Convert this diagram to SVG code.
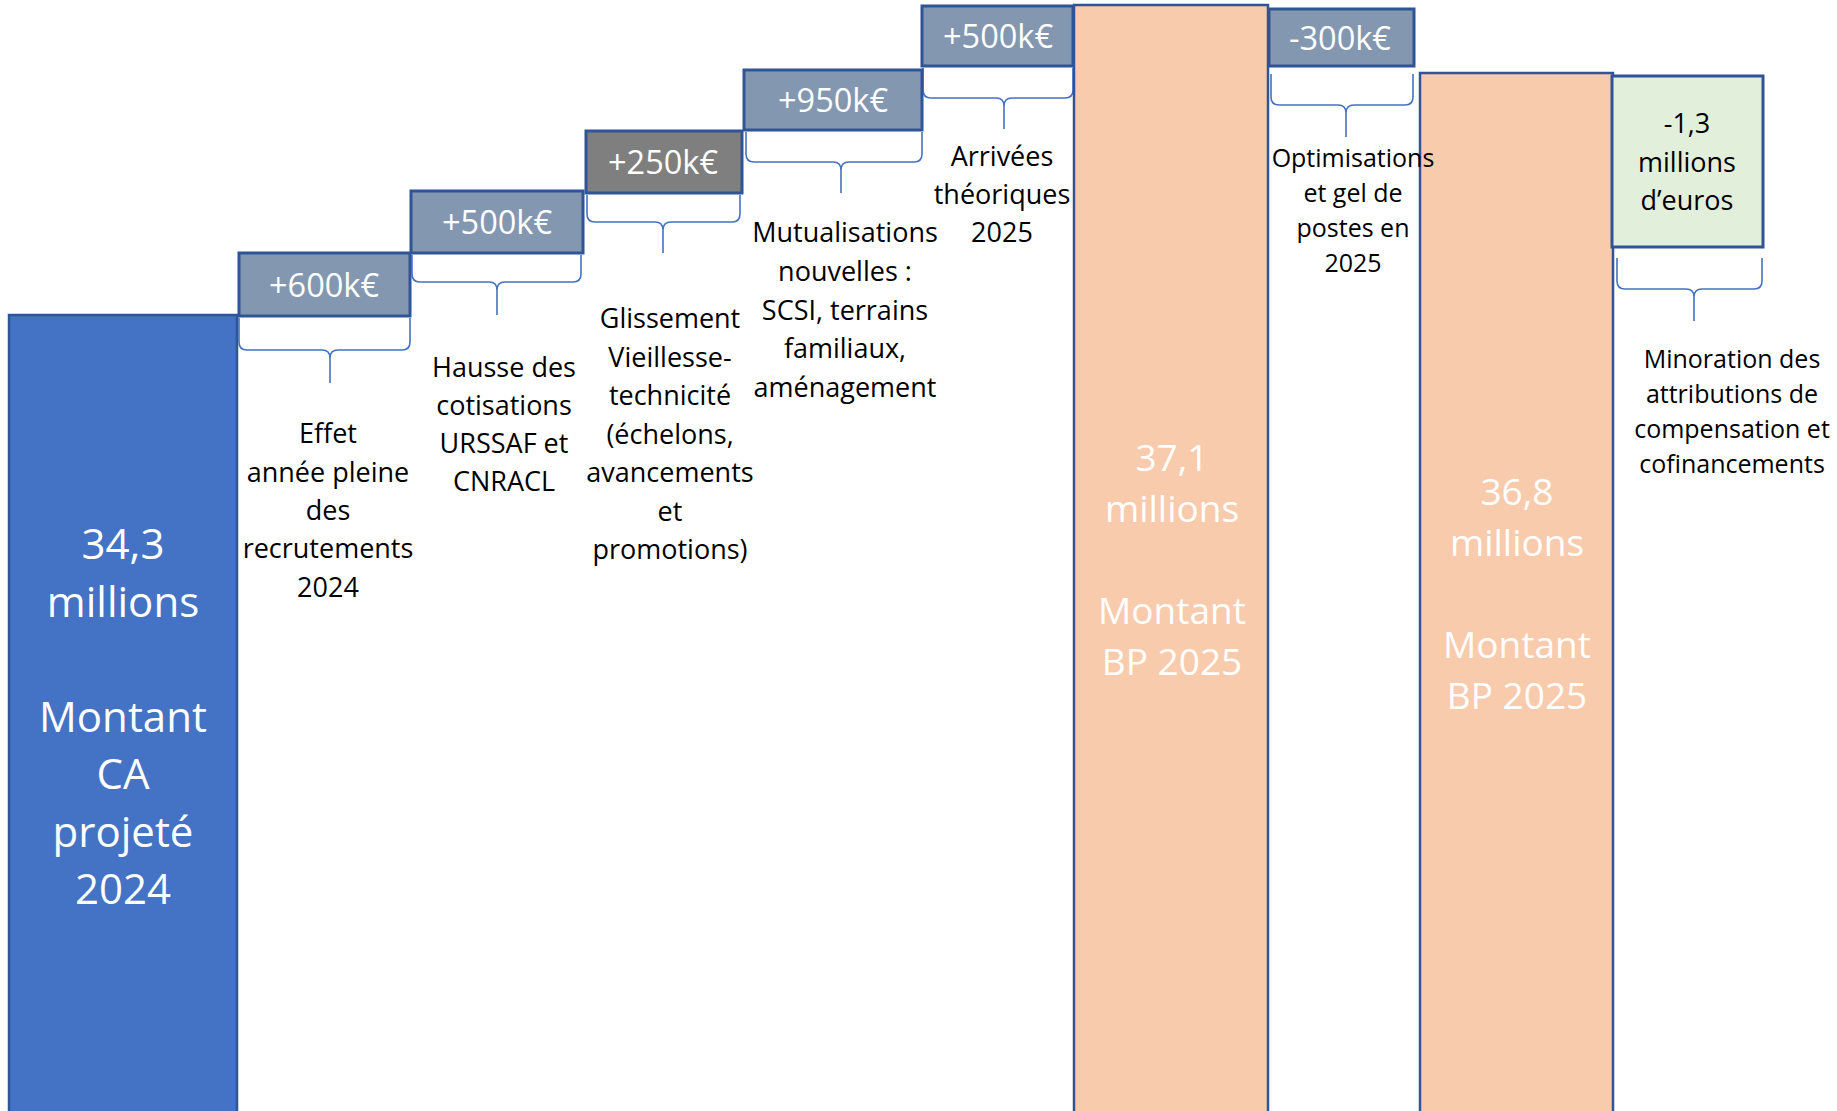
<svg xmlns="http://www.w3.org/2000/svg" width="1837" height="1111" viewBox="0 0 1837 1111">
<style>
.bar{stroke:#2F5597;stroke-width:2.5}
.box{stroke:#2F5597;stroke-width:3}
.blue{fill:#4472C4}
.peach{fill:#F8CBAD}
.slate{fill:#8497B0}
.gray{fill:#7F7F7F}
.green{fill:#E2EFDA}
text{font-family:"Open Sans","Liberation Sans",sans-serif;text-anchor:middle}
.val{fill:#FFFFFF;font-size:32.5px}
.lbl{fill:#000000;font-size:27px}
.sm{fill:#000000;font-size:25px}
.bigw{fill:#FFFFFF;font-size:42px}
.midw{fill:#FFFFFF;font-size:37px}
.brace{fill:none;stroke:#4472C4;stroke-width:1.6}
</style>
<rect width="1837" height="1111" fill="#FFFFFF"/>

<g id="connectors">
<path class="brace" d="M239,318 L239,342 Q239,350 247,350 L322,350 Q330,350 330,358 L330,383 M410,318 L410,342 Q410,350 402,350 L338,350 Q330,350 330,358"/>
<path class="brace" d="M412,255 L412,274 Q412,282 420,282 L489,282 Q497,282 497,290 L497,315 M581,255 L581,274 Q581,282 573,282 L505,282 Q497,282 497,290"/>
<path class="brace" d="M587,195 L587,214 Q587,222 595,222 L655,222 Q663,222 663,230 L663,253 M740,195 L740,214 Q740,222 732,222 L671,222 Q663,222 663,230"/>
<path class="brace" d="M746,132 L746,154 Q746,162 754,162 L833,162 Q841,162 841,170 L841,193 M922,132 L922,154 Q922,162 914,162 L849,162 Q841,162 841,170"/>
<path class="brace" d="M923,68 L923,90 Q923,98 931,98 L996,98 Q1004,98 1004,106 L1004,129 M1073,68 L1073,90 Q1073,98 1065,98 L1012,98 Q1004,98 1004,106"/>
<path class="brace" d="M1271,74 L1271,97 Q1271,105 1279,105 L1338,105 Q1346,105 1346,113 L1346,137 M1413,74 L1413,97 Q1413,105 1405,105 L1354,105 Q1346,105 1346,113"/>
<path class="brace" d="M1617,258 L1617,281 Q1617,289 1625,289 L1686,289 Q1694,289 1694,297 L1694,321 M1762,258 L1762,281 Q1762,289 1754,289 L1702,289 Q1694,289 1694,297"/>
</g>

<g id="bar-ca-2024">
<rect class="bar blue" x="9" y="315" width="228" height="800"/>
<text class="bigw"><tspan x="123" y="559">34,3</tspan><tspan x="123" y="617">millions</tspan><tspan x="123" y="732">Montant</tspan><tspan x="123" y="789">CA</tspan><tspan x="123" y="847">projeté</tspan><tspan x="123" y="904">2024</tspan></text>
</g>

<g id="step-600k">
<rect class="box slate" x="239" y="253" width="171" height="63"/>
<text class="val" x="324" y="297">+600k€</text>
</g>
<g id="label-effet">
<text class="lbl"><tspan x="328" y="443">Effet</tspan><tspan x="328" y="482">année pleine</tspan><tspan x="328" y="520">des</tspan><tspan x="328" y="558">recrutements</tspan><tspan x="328" y="597">2024</tspan></text>
</g>

<g id="step-500k-a">
<rect class="box slate" x="411" y="191" width="172" height="62"/>
<text class="val" x="497" y="234">+500k€</text>
</g>
<g id="label-hausse">
<text class="lbl"><tspan x="504" y="377">Hausse des</tspan><tspan x="504" y="415">cotisations</tspan><tspan x="504" y="453">URSSAF et</tspan><tspan x="504" y="491">CNRACL</tspan></text>
</g>

<g id="step-250k">
<rect class="box gray" x="586" y="131" width="156" height="62"/>
<text class="val" x="663" y="174">+250k€</text>
</g>
<g id="label-glissement">
<text class="lbl"><tspan x="670" y="328">Glissement</tspan><tspan x="670" y="367">Vieillesse-</tspan><tspan x="670" y="405">technicité</tspan><tspan x="670" y="444">(échelons,</tspan><tspan x="670" y="482">avancements</tspan><tspan x="670" y="521">et</tspan><tspan x="670" y="559">promotions)</tspan></text>
</g>

<g id="step-950k">
<rect class="box slate" x="744" y="70" width="178" height="60"/>
<text class="val" x="833" y="112">+950k€</text>
</g>
<g id="label-mutualisations">
<text class="lbl"><tspan x="845" y="242">Mutualisations</tspan><tspan x="845" y="281">nouvelles :</tspan><tspan x="845" y="320">SCSI, terrains</tspan><tspan x="845" y="358">familiaux,</tspan><tspan x="845" y="397">aménagement</tspan></text>
</g>

<g id="step-500k-b">
<rect class="box slate" x="922" y="6" width="151" height="60"/>
<text class="val" x="998" y="48">+500k€</text>
</g>
<g id="label-arrivees">
<text class="lbl"><tspan x="1002" y="166">Arrivées</tspan><tspan x="1002" y="204">théoriques</tspan><tspan x="1002" y="242">2025</tspan></text>
</g>

<g id="bar-bp-2025-a">
<rect class="bar peach" x="1074" y="5" width="194" height="1110"/>
<text class="midw"><tspan x="1172" y="471">37,1</tspan><tspan x="1172" y="522">millions</tspan><tspan x="1172" y="624">Montant</tspan><tspan x="1172" y="675">BP 2025</tspan></text>
</g>

<g id="step-300k">
<rect class="box slate" x="1269" y="9" width="145" height="57"/>
<text class="val" x="1340" y="50">-300k€</text>
</g>

<g id="bar-bp-2025-b">
<rect class="bar peach" x="1420" y="73" width="193" height="1042"/>
<text class="midw"><tspan x="1517" y="505">36,8</tspan><tspan x="1517" y="556">millions</tspan><tspan x="1517" y="658">Montant</tspan><tspan x="1517" y="709">BP 2025</tspan></text>
</g>

<g id="label-optimisations">
<text class="sm"><tspan x="1353" y="167">Optimisations</tspan><tspan x="1353" y="202">et gel de</tspan><tspan x="1353" y="237">postes en</tspan><tspan x="1353" y="272">2025</tspan></text>
</g>

<g id="step-1-3m">
<rect class="box green" x="1612" y="76" width="151" height="171"/>
<text class="lbl"><tspan x="1687" y="133">-1,3</tspan><tspan x="1687" y="172">millions</tspan><tspan x="1687" y="210">d’euros</tspan></text>
</g>
<g id="label-minoration">
<text class="sm"><tspan x="1732" y="368">Minoration des</tspan><tspan x="1732" y="403">attributions de</tspan><tspan x="1732" y="438">compensation et</tspan><tspan x="1732" y="473">cofinancements</tspan></text>
</g>
</svg>
